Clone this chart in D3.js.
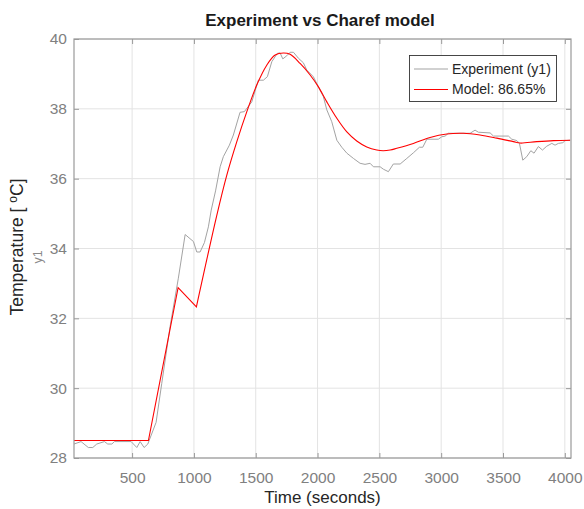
<!DOCTYPE html>
<html>
<head>
<meta charset="utf-8">
<script src="https://cdn.jsdelivr.net/npm/d3@7"></script>
<style>
  html, body { margin: 0; padding: 0; background: #fff; }
  svg { display: block; font-family: "Liberation Sans", Arial, sans-serif; }
</style>
</head>
<body>
<svg id="chart" width="584" height="509"></svg>
<script>
// ---------- data ----------
const expTime = [30, 87, 146, 182, 214, 276, 303, 336, 357, 492, 538, 565, 597, 627, 694, 740, 807, 874, 929, 996,
  1023, 1050, 1085, 1117, 1140, 1175, 1212, 1238, 1287, 1319, 1373, 1408, 1468, 1521, 1562, 1594, 1630, 1675, 1697, 1719,
  1751, 1778, 1805, 1845, 1885, 1913, 1966, 2007, 2047, 2075, 2115, 2156, 2196, 2237, 2290, 2344, 2384, 2425, 2452, 2506,
  2533, 2573, 2613, 2668, 2722, 2775, 2824, 2851, 2884, 2977, 3005, 3032, 3058, 3234, 3274, 3301, 3396, 3423, 3544, 3571,
  3612, 3633, 3660, 3692, 3725, 3751, 3786, 3819, 3854, 3895, 3921, 3948, 3984, 4002, 4043];
const expTemp = [28.4, 28.47, 28.3, 28.3, 28.4, 28.47, 28.4, 28.4, 28.47, 28.47, 28.3, 28.47, 28.3, 28.4, 29.02, 30.14, 31.76, 33.15, 34.4, 34.2,
  33.9, 33.9, 34.17, 34.62, 35.1, 35.65, 36.34, 36.63, 36.96, 37.25, 37.9, 37.92, 38.2, 38.82, 38.82, 38.92, 39.35, 39.59, 39.6, 39.43,
  39.52, 39.62, 39.62, 39.45, 39.32, 39.11, 38.92, 38.63, 38.35, 37.97, 37.63, 37.1, 36.9, 36.73, 36.58, 36.44, 36.41, 36.44, 36.34, 36.34,
  36.27, 36.2, 36.42, 36.42, 36.58, 36.74, 36.9, 36.9, 37.13, 37.13, 37.2, 37.22, 37.3, 37.3, 37.39, 37.33, 37.31, 37.22, 37.22, 37.13,
  37.09, 37.01, 36.53, 36.63, 36.8, 36.73, 36.92, 36.82, 36.93, 37.01, 36.96, 37.01, 37.03, 37.09, 37.1];

// model: first four points are straight segments, the rest is a smooth response
const modelTime = [30, 632, 872, 1020, 1185, 1266, 1347, 1428, 1508, 1589, 1657, 1724, 1778, 1859, 1940, 2007, 2075, 2156,
  2237, 2317, 2398, 2479, 2530, 2587, 2641, 2775, 2910, 3045, 3180, 3314, 3450, 3584, 3638, 3773, 3908, 4043];
const modelTemp = [28.5, 28.5, 32.88, 32.33, 34.95, 36.1, 37.06, 37.92, 38.68, 39.25, 39.54, 39.6, 39.56, 39.3, 38.97, 38.63, 38.2, 37.73,
  37.34, 37.08, 36.91, 36.82, 36.8, 36.82, 36.87, 37.01, 37.18, 37.28, 37.3, 37.25, 37.16, 37.06, 37.02, 37.06, 37.09, 37.1];
const modelKinkCount = 4;

const xTicks = [500, 1000, 1500, 2000, 2500, 3000, 3500, 4000];
const yTicks = [28, 30, 32, 34, 36, 38, 40];
const xDomain = [30, 4050];
const yDomain = [28, 40];

const titleText = "Experiment vs Charef model";
const xLabel = "Time (seconds)";
const seriesNames = ["Experiment (y1)", "Model: 86.65%"];
const seriesColors = ["#a3a3a3", "#ff0000"];

// ---------- layout ----------
const L = 74, R = 571, T = 39, B = 458;
const svg = d3.select("#chart");
const x = d3.scaleLinear().domain(xDomain).range([L, R]);
const y = d3.scaleLinear().domain(yDomain).range([B, T]);

const tickColor = "#808080";
const axisColor = "#9a9a9a";

// grid
const grid = svg.append("g");
grid.selectAll(".vg").data(xTicks).join("line")
  .attr("x1", d => x(d)).attr("x2", d => x(d)).attr("y1", T).attr("y2", B)
  .attr("stroke", "#e3e3e3").attr("stroke-width", 1);
grid.selectAll(".hg").data(yTicks).join("line")
  .attr("x1", L).attr("x2", R).attr("y1", d => y(d)).attr("y2", d => y(d))
  .attr("stroke", "#e3e3e3").attr("stroke-width", 1);

// series
const lineGen = d3.line().x(d => x(d[0])).y(d => y(d[1]));
const smoothGen = d3.line().x(d => x(d[0])).y(d => y(d[1])).curve(d3.curveCatmullRom.alpha(0.5));
const expData = expTime.map((t, i) => [t, expTemp[i]]);
const modelData = modelTime.map((t, i) => [t, modelTemp[i]]);

svg.append("path").datum(expData).attr("d", lineGen)
  .attr("fill", "none").attr("stroke", seriesColors[0]).attr("stroke-width", 1);

const modelPath = lineGen(modelData.slice(0, modelKinkCount)) +
  smoothGen(modelData.slice(modelKinkCount - 1)).replace(/^M/, "L");
svg.append("path").attr("d", modelPath)
  .attr("fill", "none").attr("stroke", seriesColors[1]).attr("stroke-width", 1.1);

// axes
function styleAxis(g) {
  g.select(".domain").remove();
  g.selectAll(".tick line").attr("stroke", axisColor);
  g.selectAll(".tick text").attr("fill", tickColor).attr("font-size", "15.5px")
    .attr("font-family", "'Liberation Sans', Arial, sans-serif");
}
const fmt = d3.format("d");
svg.append("g").attr("transform", `translate(0,${B})`)
  .call(d3.axisBottom(x).tickValues(xTicks).tickFormat(fmt).tickSizeInner(-5).tickSizeOuter(0).tickPadding(14))
  .call(styleAxis);
svg.append("g").attr("transform", `translate(0,${T})`)
  .call(d3.axisTop(x).tickValues(xTicks).tickSizeInner(-5).tickSizeOuter(0).tickFormat(""))
  .call(styleAxis);
svg.append("g").attr("transform", `translate(${L},0)`)
  .call(d3.axisLeft(y).tickValues(yTicks).tickFormat(fmt).tickSizeInner(-5).tickSizeOuter(0).tickPadding(7))
  .call(styleAxis);
svg.append("g").attr("transform", `translate(${R},0)`)
  .call(d3.axisRight(y).tickValues(yTicks).tickSizeInner(-5).tickSizeOuter(0).tickFormat(""))
  .call(styleAxis);

// box
svg.append("rect").attr("x", L).attr("y", T).attr("width", R - L).attr("height", B - T)
  .attr("fill", "none").attr("stroke", axisColor).attr("stroke-width", 1.2);

// title
svg.append("text").attr("x", 320).attr("y", 26).attr("text-anchor", "middle")
  .attr("font-size", "17px").attr("font-weight", "bold").attr("fill", "#1a1a1a").text(titleText);

// x label
svg.append("text").attr("x", (L + R) / 2).attr("y", 503).attr("text-anchor", "middle")
  .attr("font-size", "17px").attr("fill", "#262626").text(xLabel);

// y label with superscript
const yl = svg.append("text").attr("transform", `translate(23,247) rotate(-90)`)
  .attr("text-anchor", "middle").attr("font-size", "17.5px").attr("fill", "#262626");
yl.append("tspan").text("Temperature [ ");
yl.append("tspan").attr("font-size", "12px").attr("dy", "-6").text("o");
yl.append("tspan").attr("dy", "6").text("C]");

// small y1 label
svg.append("text").attr("transform", `translate(42,257) rotate(-90)`)
  .attr("text-anchor", "middle").attr("font-size", "12.5px").attr("fill", "#8a8a8a").text("y1");

// legend
const lg = svg.append("g");
lg.append("rect").attr("x", 409.5).attr("y", 55.5).attr("width", 147).attr("height", 46)
  .attr("fill", "#fff").attr("stroke", "#333").attr("stroke-width", 0.9);
const rowsY = [69, 89.5];
seriesNames.forEach((name, i) => {
  lg.append("line").attr("x1", 414).attr("x2", 448).attr("y1", rowsY[i]).attr("y2", rowsY[i])
    .attr("stroke", seriesColors[i]).attr("stroke-width", 1);
  lg.append("text").attr("x", 452).attr("y", rowsY[i]).attr("dy", "0.35em")
    .attr("font-size", "14px").attr("fill", "#262626").text(name);
});
</script>
</body>
</html>
